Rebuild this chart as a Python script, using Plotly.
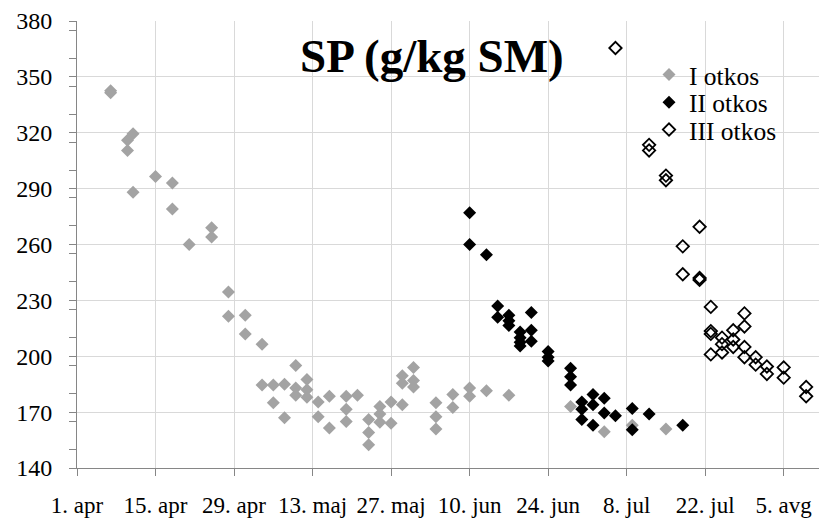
import plotly.graph_objects as go

# I otkos (grey)
dates_1 = ["2013-04-07", "2013-04-07", "2013-04-10", "2013-04-10", "2013-04-11", "2013-04-11",
           "2013-04-15", "2013-04-18", "2013-04-18", "2013-04-21", "2013-04-25", "2013-04-25",
           "2013-04-28", "2013-04-28", "2013-05-01", "2013-05-01", "2013-05-04", "2013-05-04",
           "2013-05-06", "2013-05-06", "2013-05-08", "2013-05-08", "2013-05-10", "2013-05-10",
           "2013-05-10", "2013-05-12", "2013-05-12", "2013-05-12", "2013-05-14", "2013-05-14",
           "2013-05-16", "2013-05-16", "2013-05-19", "2013-05-19", "2013-05-19", "2013-05-21",
           "2013-05-23", "2013-05-23", "2013-05-23", "2013-05-25", "2013-05-25", "2013-05-25",
           "2013-05-27", "2013-05-27", "2013-05-29", "2013-05-29", "2013-05-29", "2013-05-31",
           "2013-05-31", "2013-05-31", "2013-06-04", "2013-06-04", "2013-06-04", "2013-06-07",
           "2013-06-07", "2013-06-10", "2013-06-10", "2013-06-13", "2013-06-17", "2013-06-28",
           "2013-07-04", "2013-07-09", "2013-07-15"]
sp_1 = [342.5, 341.5, 316, 310.5, 319.5, 288,
        296.5, 293, 279, 260, 269, 264,
        234.5, 221.5, 222, 212, 206.5, 184.5,
        184.5, 175, 185, 167, 195, 183,
        179, 187.5, 182, 178, 175.5, 167.5,
        178.5, 161.5, 178.5, 171.5, 165, 179,
        166, 159, 152.5, 173, 169, 164.5,
        175.5, 164, 189.5, 185.5, 174, 194,
        187, 183.5, 175, 167.5, 161, 179.5,
        172.5, 183, 178.5, 181.5, 179, 173,
        159.5, 163, 161]

# II otkos (black)
dates_2 = ["2013-06-10", "2013-06-10", "2013-06-13", "2013-06-15", "2013-06-15",
           "2013-06-17", "2013-06-17", "2013-06-17", "2013-06-19", "2013-06-19",
           "2013-06-19", "2013-06-19", "2013-06-21", "2013-06-21", "2013-06-21",
           "2013-06-24", "2013-06-24", "2013-06-24", "2013-06-28", "2013-06-28",
           "2013-06-28", "2013-06-30", "2013-06-30", "2013-06-30", "2013-07-02",
           "2013-07-02", "2013-07-02", "2013-07-04", "2013-07-04", "2013-07-06",
           "2013-07-09", "2013-07-09", "2013-07-12", "2013-07-18"]
sp_2 = [277, 260, 254.5, 227, 221,
        222, 219, 216.5, 213, 210,
        207.5, 205.5, 223.5, 214, 208,
        202.5, 199.5, 197.5, 193.5, 189,
        184.5, 175.5, 171.5, 166, 179.5,
        174, 163, 177.5, 169.5, 168,
        172, 160.5, 169, 163]

# III otkos (open)
dates_3 = ["2013-07-06", "2013-07-12", "2013-07-12", "2013-07-15", "2013-07-15",
           "2013-07-18", "2013-07-18", "2013-07-21", "2013-07-21", "2013-07-21",
           "2013-07-23", "2013-07-23", "2013-07-23", "2013-07-23", "2013-07-25",
           "2013-07-25", "2013-07-25", "2013-07-27", "2013-07-27", "2013-07-27",
           "2013-07-29", "2013-07-29", "2013-07-29", "2013-07-29", "2013-07-31",
           "2013-07-31", "2013-08-02", "2013-08-02", "2013-08-05", "2013-08-05",
           "2013-08-09", "2013-08-09"]
sp_3 = [365.5, 313.5, 310.5, 297, 294.5,
        259, 244, 269.5, 242, 241,
        226.5, 213.5, 212, 201, 210,
        206.5, 202, 214, 209, 205,
        223, 216, 205, 199.5, 199.5,
        195.5, 194.5, 190.5, 194, 188.5,
        183.5, 178.5]

tick_dates = ["2013-04-01", "2013-04-15", "2013-04-29", "2013-05-13", "2013-05-27",
              "2013-06-10", "2013-06-24", "2013-07-08", "2013-07-22", "2013-08-05"]
tick_labels = ["1. apr", "15. apr", "29. apr", "13. maj", "27. maj",
               "10. jun", "24. jun", "8. jul", "22. jul", "5. avg"]

FONT = "Liberation Serif, Times New Roman, serif"

fig = go.Figure()
fig.add_trace(go.Scatter(x=dates_1, y=sp_1, mode="markers", name="I otkos", legend="legend",
                         marker=dict(symbol="diamond", size=10, color="#a3a3a3",
                                     line=dict(width=0))))
fig.add_trace(go.Scatter(x=dates_2, y=sp_2, mode="markers", name="II otkos", legend="legend2",
                         marker=dict(symbol="diamond", size=10, color="#000000",
                                     line=dict(width=0))))
fig.add_trace(go.Scatter(x=dates_3, y=sp_3, mode="markers", name="III otkos", legend="legend3",
                         marker=dict(symbol="diamond-open", size=9.5, color="#000000",
                                     line=dict(width=1.8, color="#000000"))))

fig.add_annotation(text="<b>SP (g/kg SM)</b>", xref="paper", yref="paper",
                   x=0.479, y=0.9217, xanchor="center", yanchor="middle",
                   showarrow=False, font=dict(family=FONT, size=47, color="#000000"))

H0, PH = 468.0, 447.0
def leg(yc):
    return dict(x=(649 - 77) / 742.0, y=(H0 - yc) / PH, xanchor="left", yanchor="middle",
                bgcolor="rgba(0,0,0,0)", font=dict(family=FONT, size=25.5, color="#000000"))

fig.update_layout(
    width=819, height=519,
    margin=dict(l=77, r=0, t=21, b=51, autoexpand=False),
    paper_bgcolor="white", plot_bgcolor="white",
    font=dict(family=FONT, color="#000000"),
    showlegend=True,
    legend=leg(75), legend2=leg(102.7), legend3=leg(130),
    xaxis=dict(type="date", range=["2013-04-01", "2013-08-11 07:00"], automargin=False,
               tickmode="array", tickvals=tick_dates, ticktext=tick_labels,
               showgrid=True, gridcolor="#d9d9d9", gridwidth=1,
               showline=True, linecolor="#868686", linewidth=1,
               ticks="outside", ticklen=7, tickcolor="#868686",
               tickfont=dict(family=FONT, size=23, color="#000000"),
               ticklabelstandoff=9, zeroline=False),
    yaxis=dict(range=[140, 380], tickmode="linear", tick0=140, dtick=30, automargin=False,
               showgrid=True, gridcolor="#d9d9d9", gridwidth=1,
               showline=True, linecolor="#868686", linewidth=1,
               ticks="outside", ticklen=7, tickcolor="#868686",
               minor=dict(dtick=15, ticks="outside", ticklen=7, tickcolor="#868686",
                          showgrid=False),
               tickfont=dict(family=FONT, size=24, color="#000000"),
               ticklabelstandoff=12, zeroline=False),
)

fig.write_html("out.html", config={"displayModeBar": False},
               post_script="document.body.style.margin='0';document.body.style.overflow='hidden';")
